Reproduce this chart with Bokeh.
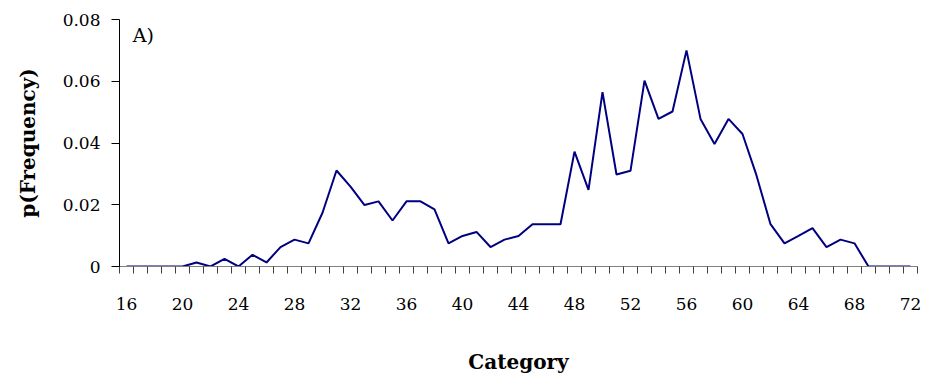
from bokeh.plotting import figure
from bokeh.models import FixedTicker, Label, Range1d
from bokeh.embed import file_html
from bokeh.resources import INLINE

categories = list(range(16, 73))
frequency = [
    0.0, 0.0, 0.0, 0.0, 0.0, 0.0013, 0.0, 0.0025, 0.0, 0.0038,
    0.0013, 0.0063, 0.0087, 0.0075, 0.0174, 0.0311, 0.0259, 0.0199, 0.0211, 0.0149,
    0.0211, 0.0211, 0.0185, 0.0075, 0.0099, 0.0112, 0.0063, 0.0087, 0.0099, 0.0137,
    0.0137, 0.0137, 0.0372, 0.0248, 0.0565, 0.0298, 0.0310, 0.0602, 0.0478, 0.0502,
    0.0700, 0.0478, 0.0397, 0.0478, 0.0429, 0.0295, 0.0137, 0.0075, 0.0099, 0.0124,
    0.0063, 0.0087, 0.0075, 0.0, 0.0, 0.0, 0.0,
]
x_tick_labels = list(range(16, 73, 4))
y_ticks = [0, 0.02, 0.04, 0.06, 0.08]
y_tick_labels = ["0", "0.02", "0.04", "0.06", "0.08"]

FONT = "DejaVu Serif"

p = figure(width=925, height=383, output_backend="svg", toolbar_location=None,
           x_range=Range1d(15.5, 72.5), y_range=Range1d(0, 0.08),
           min_border_left=119, min_border_right=8, min_border_top=19, min_border_bottom=117)
p.outline_line_color = None
p.xgrid.grid_line_color = None
p.ygrid.grid_line_color = None

p.line(categories, frequency, line_color="#000080", line_width=2)

# x axis
xa = p.xaxis[0]
xa.ticker = FixedTicker(ticks=x_tick_labels, minor_ticks=[c - 0.5 for c in categories] + [categories[-1] + 0.5])
xa.major_tick_out = 0
xa.major_tick_in = 0
xa.minor_tick_out = 7
xa.minor_tick_in = 0
xa.minor_tick_line_color = "#404040"
xa.axis_line_color = "#808080"
xa.major_label_standoff = 24
xa.major_label_text_font = FONT
xa.major_label_text_font_size = "17px"
xa.major_label_text_color = "black"
xa.axis_label = "Category"
xa.axis_label_text_font = FONT
xa.axis_label_text_font_style = "bold"
xa.axis_label_text_font_size = "20px"
xa.axis_label_text_color = "black"
xa.axis_label_standoff = 37

# y axis
ya = p.yaxis[0]
ya.ticker = FixedTicker(ticks=y_ticks, minor_ticks=[])
ya.major_label_overrides = {t: l for t, l in zip(y_ticks, y_tick_labels)}
ya.major_tick_out = 8
ya.major_tick_in = 0
ya.major_tick_line_color = "black"
ya.axis_line_color = "black"
ya.major_label_standoff = 11
ya.major_label_text_font = FONT
ya.major_label_text_font_size = "17px"
ya.major_label_text_color = "black"
ya.axis_label = "p(Frequency)"
ya.axis_label_text_font = FONT
ya.axis_label_text_font_style = "bold"
ya.axis_label_text_font_size = "20px"
ya.axis_label_text_color = "black"
ya.axis_label_standoff = 20

p.add_layout(Label(x=16.45, y=0.0786, text="A)", text_font=FONT, text_font_size="19px",
                   text_baseline="top", text_color="black"))

open("out.html", "w").write(file_html(p, INLINE))
